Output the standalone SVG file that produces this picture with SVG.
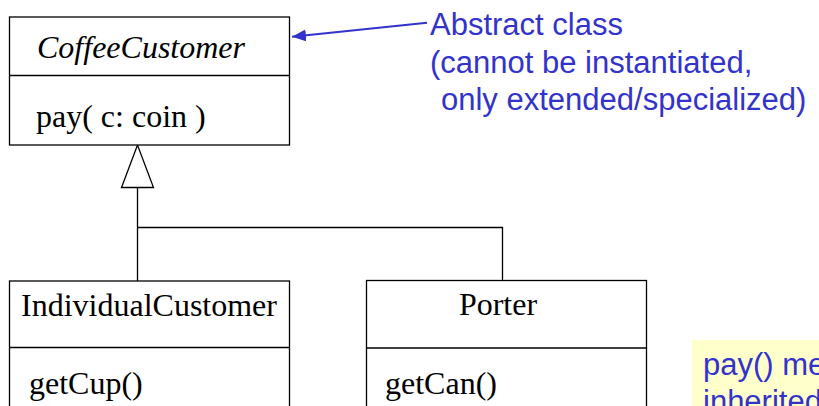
<svg xmlns="http://www.w3.org/2000/svg" width="819" height="406" viewBox="0 0 819 406">
  <style>
    .box { fill: #ffffff; stroke: #000000; stroke-width: 1.3; }
    .line { fill: none; stroke: #000000; stroke-width: 1.3; }
    .uml { font-family: "Liberation Serif", "Times New Roman", serif; font-size: 32px; fill: #000000; }
    .it { font-style: italic; }
    .note { font-family: "Liberation Sans", Arial, sans-serif; font-size: 31px; fill: #3333cc; }
  </style>
  <defs>
    <marker id="arrow" markerWidth="14" markerHeight="12" refX="14" refY="6" orient="auto" markerUnits="userSpaceOnUse">
      <path d="M0,0 L14,6 L0,12 Z" fill="#3333cc"/>
    </marker>
  </defs>

  <rect width="819" height="406" fill="#ffffff"/>

  <!-- yellow comment area, lower right -->
  <g id="note-inherited">
    <rect x="692" y="340" width="140" height="80" fill="#ffffcc"/>
    <text class="note" x="703" y="375">pay() method</text>
    <text class="note" x="703" y="412">inherited</text>
  </g>

  <!-- generalization connectors -->
  <g id="connectors">
    <polyline class="line" points="137.5,187.5 137.5,281"/>
    <polyline class="line" points="137.5,227.5 502.5,227.5 502.5,281"/>
    <polygon class="box" points="137.5,145 121.5,187.5 153.5,187.5"/>
    <line x1="427" y1="22.7" x2="292" y2="36.8" stroke="#3333cc" stroke-width="2" marker-end="url(#arrow)"/>
  </g>

  <g id="CoffeeCustomer">
    <rect class="box" x="9.5" y="17" width="280" height="128"/>
    <line class="line" x1="9.5" y1="75.5" x2="290" y2="75.5"/>
    <text class="uml it" x="37" y="58">CoffeeCustomer</text>
    <text class="uml" x="36" y="127">pay( c: coin )</text>
  </g>

  <g id="IndividualCustomer">
    <rect class="box" x="9.5" y="281" width="280" height="140"/>
    <line class="line" x1="9.5" y1="347.5" x2="290" y2="347.5"/>
    <text class="uml" x="21" y="316">IndividualCustomer</text>
    <text class="uml" x="29" y="394">getCup()</text>
  </g>

  <g id="Porter">
    <rect class="box" x="366.5" y="280.5" width="280" height="140"/>
    <line class="line" x1="366.5" y1="348" x2="646.5" y2="348"/>
    <text class="uml" x="498" y="315" text-anchor="middle">Porter</text>
    <text class="uml" x="385" y="394">getCan()</text>
  </g>

  <g id="abstract-class-label">
    <text class="note" x="430" y="35">Abstract class</text>
    <text class="note" x="430" y="72.5">(cannot be instantiated,</text>
    <text class="note" x="441" y="110">only extended/specialized)</text>
  </g>
</svg>
